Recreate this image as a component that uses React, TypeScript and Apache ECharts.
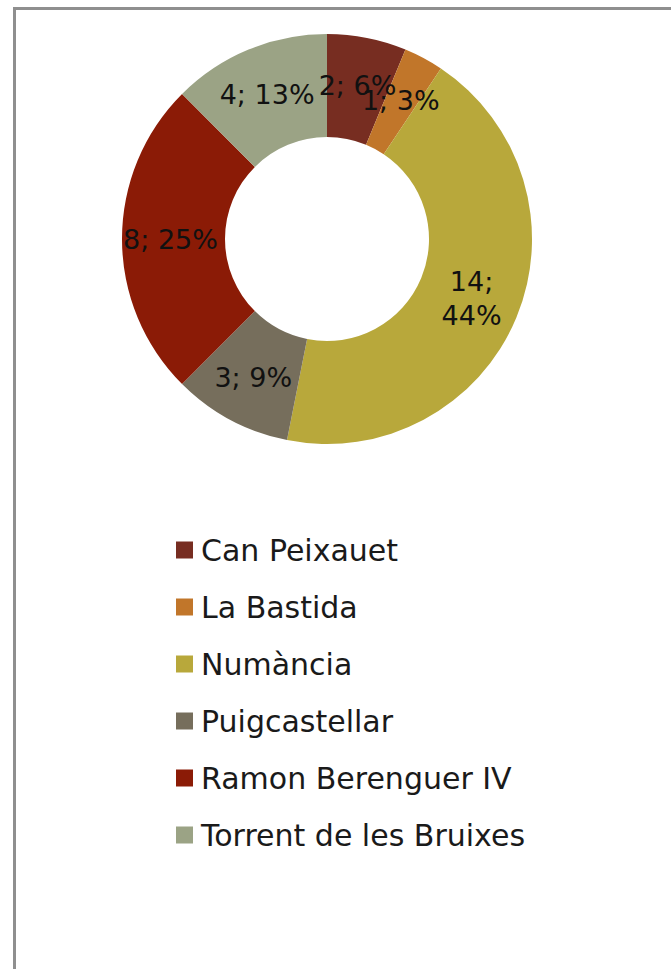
import React, { useEffect, useRef } from "react";
import * as echarts from "echarts";

const categories = [
  "Can Peixauet",
  "La Bastida",
  "Numància",
  "Puigcastellar",
  "Ramon Berenguer IV",
  "Torrent de les Bruixes",
];
const values = [2, 1, 14, 3, 8, 4];
const colors = ["#772D21", "#C1762A", "#B8A83B", "#766E5C", "#8B1B06", "#9BA385"];
const wrappedLabels = ["Numància"];

export default function App() {
  const ref = useRef<HTMLDivElement>(null);
  useEffect(() => {
    if (!ref.current) return;
    const chart = echarts.init(ref.current, null, { renderer: "svg" });
    const font = "'DejaVu Sans', sans-serif";
    chart.setOption({
      animation: false,
      backgroundColor: "#ffffff",
      graphic: [
        {
          type: "rect",
          shape: { x: 14.5, y: 8.5, width: 700, height: 1000 },
          style: { fill: "none", stroke: "#8f8f8f", lineWidth: 3 },
          silent: true,
        },
      ],
      legend: {
        orient: "vertical",
        left: 176,
        top: 533,
        padding: 0,
        icon: "rect",
        itemWidth: 17,
        itemHeight: 17,
        itemGap: 23,
        textStyle: {
          fontFamily: font,
          fontSize: 30,
          lineHeight: 34,
          color: "#1a1a1a",
          padding: [0, 0, 0, 3],
        },
        data: categories,
      },
      series: [
        {
          type: "pie",
          center: [327, 239],
          radius: [102, 205],
          startAngle: 90,
          clockwise: true,
          percentPrecision: 0,
          avoidLabelOverlap: false,
          minShowLabelAngle: 0,
          labelLayout: { hideOverlap: false },
          itemStyle: { borderWidth: 0 },
          label: {
            show: true,
            position: "inside",
            fontFamily: font,
            fontSize: 27,
            color: "#111111",
            formatter: (p: any) =>
              wrappedLabels.includes(p.name)
                ? `${p.value};\n${p.percent}%`
                : `${p.value}; ${p.percent}%`,
            lineHeight: 34,
          },
          labelLine: { show: false },
          emphasis: { disabled: true },
          data: categories.map((name, i) => ({
            name,
            value: values[i],
            itemStyle: { color: colors[i] },
          })),
        },
      ],
    });
    return () => chart.dispose();
  }, []);
  return (
    <div
      ref={ref}
      style={{ position: "absolute", left: 0, top: 0, width: 671, height: 969 }}
    />
  );
}
